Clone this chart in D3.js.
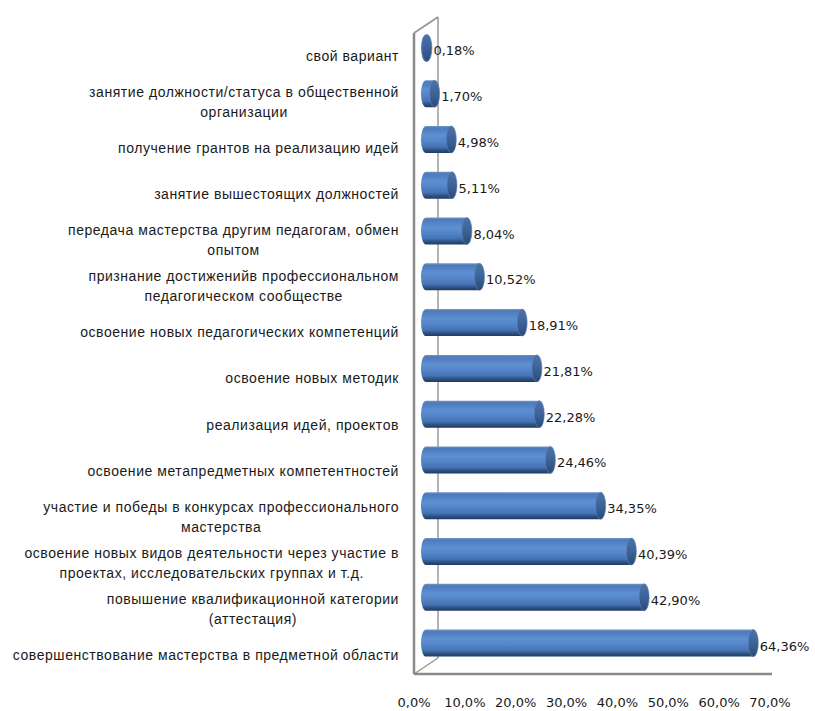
<!DOCTYPE html>
<html>
<head>
<meta charset="utf-8">
<script src="https://cdn.jsdelivr.net/npm/d3@7"></script>
<style>
  html, body { margin: 0; padding: 0; background: #ffffff; }
  svg { display: block; }
</style>
</head>
<body>
<svg id="chart" width="815" height="711"></svg>
<script>
// Categories, top to bottom ("\n" marks a line break in the label)
const categories = [
  "свой вариант",
  "занятие должности/статуса в общественной\nорганизации",
  "получение грантов на реализацию идей",
  "занятие вышестоящих должностей",
  "передача мастерства другим педагогам, обмен\nопытом",
  "признание достиженийв профессиональном\nпедагогическом сообществе",
  "освоение новых педагогических компетенций",
  "освоение новых методик",
  "реализация идей, проектов",
  "освоение метапредметных компетентностей",
  "участие и победы в конкурсах профессионального\nмастерства",
  "освоение новых видов деятельности через участие в\nпроектах, исследовательских группах и т.д.",
  "повышение квалификационной категории\n(аттестация)",
  "совершенствование мастерства в предметной области"
];
// Share of respondents, %
const values = [0.18, 1.70, 4.98, 5.11, 8.04, 10.52, 18.91, 21.81, 22.28, 24.46, 34.35, 40.39, 42.90, 64.36];
// Axis ticks, %
const ticks = [0, 10, 20, 30, 40, 50, 60, 70];

const fmtValue = v => v.toFixed(2).replace(".", ",") + "%";
const fmtTick = v => v.toFixed(1).replace(".", ",") + "%";

const svg = d3.select("#chart");

// Front plane of the 3D box
const x = d3.scaleLinear().domain([0, 70]).range([414, 770]);
const y = d3.scaleBand().domain(categories).range([33, 674]).padding(0);

// Depth offsets: back wall and the middle plane where the cylinders sit
const depth = { dx: 24, dy: -16 };
const mid = { dx: depth.dx / 2, dy: depth.dy / 2 };

const defs = svg.append("defs");
const grad = defs.append("linearGradient")
  .attr("id", "cyl").attr("x1", 0).attr("y1", 0).attr("x2", 0).attr("y2", 1);
[
  [0.00, "#7094c4"],
  [0.08, "#4d7aba"],
  [0.35, "#5d8fd3"],
  [0.55, "#5586ca"],
  [0.78, "#4572b1"],
  [0.88, "#2f5487"],
  [1.00, "#1f3a62"]
].forEach(([o, c]) => grad.append("stop").attr("offset", o).attr("stop-color", c));

const capGrad = defs.append("linearGradient")
  .attr("id", "cap").attr("x1", 0).attr("y1", 0).attr("x2", 0).attr("y2", 1);
[
  [0.0, "#4d72a6"],
  [0.5, "#3c6398"],
  [1.0, "#2a4a78"]
].forEach(([o, c]) => capGrad.append("stop").attr("offset", o).attr("stop-color", c));

// Back wall edge and frame
const yTop = y.range()[0], yBottom = y.range()[1];
svg.append("line")
  .attr("x1", x(0) + depth.dx).attr("y1", yTop + depth.dy)
  .attr("x2", x(0) + depth.dx).attr("y2", yBottom + depth.dy)
  .attr("stroke", "#b4b4b4").attr("stroke-width", 2);
svg.append("line")
  .attr("x1", x(0)).attr("y1", yTop)
  .attr("x2", x(0) + depth.dx).attr("y2", yTop + depth.dy)
  .attr("stroke", "#9a9a9a").attr("stroke-width", 2);
svg.append("line")
  .attr("x1", x(0)).attr("y1", yBottom)
  .attr("x2", x(0) + depth.dx).attr("y2", yBottom + depth.dy)
  .attr("stroke", "#9a9a9a").attr("stroke-width", 1.5);

// Cylinders
const ry = 13.5, rx = 5;
const bars = svg.append("g").selectAll("g")
  .data(categories.map((c, i) => ({ c, v: values[i] })))
  .join("g");

bars.each(function(d) {
  const g = d3.select(this);
  const cy = y(d.c) + y.bandwidth() / 2 + mid.dy;
  const x0 = x(0) + mid.dx;
  const x1 = x(d.v) + mid.dx;
  g.append("path")
    .attr("d", `M${x0},${cy - ry} L${x1},${cy - ry} L${x1},${cy + ry} L${x0},${cy + ry}
                A${rx},${ry} 0 0 1 ${x0},${cy - ry} Z`)
    .attr("fill", "url(#cyl)");
  g.append("ellipse")
    .attr("cx", x1).attr("cy", cy).attr("rx", rx).attr("ry", ry)
    .attr("fill", "url(#cap)")
    .attr("stroke", "#5a80b8").attr("stroke-width", 0.6);
  g.append("text")
    .attr("x", x1 + rx + 1.5).attr("y", cy + 4)
    .attr("dominant-baseline", "middle")
    .attr("font-family", "DejaVu Sans, Verdana, sans-serif")
    .attr("font-size", 13)
    .attr("fill", "#1a1a1a")
    .text(fmtValue(d.v));
});

// Front edges drawn over the bars
svg.append("line")
  .attr("x1", x(0)).attr("y1", yTop).attr("x2", x(0)).attr("y2", yBottom)
  .attr("stroke", "#8a8a8a").attr("stroke-width", 2.5);
svg.append("line")
  .attr("x1", x(0)).attr("y1", yBottom).attr("x2", x(70) + 2).attr("y2", yBottom)
  .attr("stroke", "#8a8a8a").attr("stroke-width", 2.5);

// Category labels
const labels = svg.append("g")
  .attr("font-family", "Liberation Sans, Arial, sans-serif")
  .attr("font-size", 14)
  .attr("letter-spacing", 0.55)
  .attr("fill", "#1a1a1a");
categories.forEach((c, k) => {
  const lines = c.split("\n");
  const cy = y(c) + y.bandwidth() / 2 + 1 + k * 0.3;
  const lh = 20;
  const t = labels.append("text")
    .attr("text-anchor", "middle")
    .attr("dominant-baseline", "middle");
  lines.forEach((ln, i) => {
    t.append("tspan").attr("y", cy + (i - (lines.length - 1) / 2) * lh).text(ln);
  });
  // right-align the block: center each line on the widest line's center
  const widths = [];
  t.selectAll("tspan").each(function() { widths.push(this.getComputedTextLength()); });
  const w = d3.max(widths);
  t.selectAll("tspan").attr("x", 399 - w / 2);
});

// Value axis labels
svg.append("g")
  .attr("font-family", "DejaVu Sans, Verdana, sans-serif")
  .attr("font-size", 13)
  .attr("fill", "#1a1a1a")
  .selectAll("text")
  .data(ticks)
  .join("text")
  .attr("x", d => x(d))
  .attr("y", 703)
  .attr("text-anchor", "middle")
  .attr("dominant-baseline", "middle")
  .text(fmtTick);
</script>
</body>
</html>
